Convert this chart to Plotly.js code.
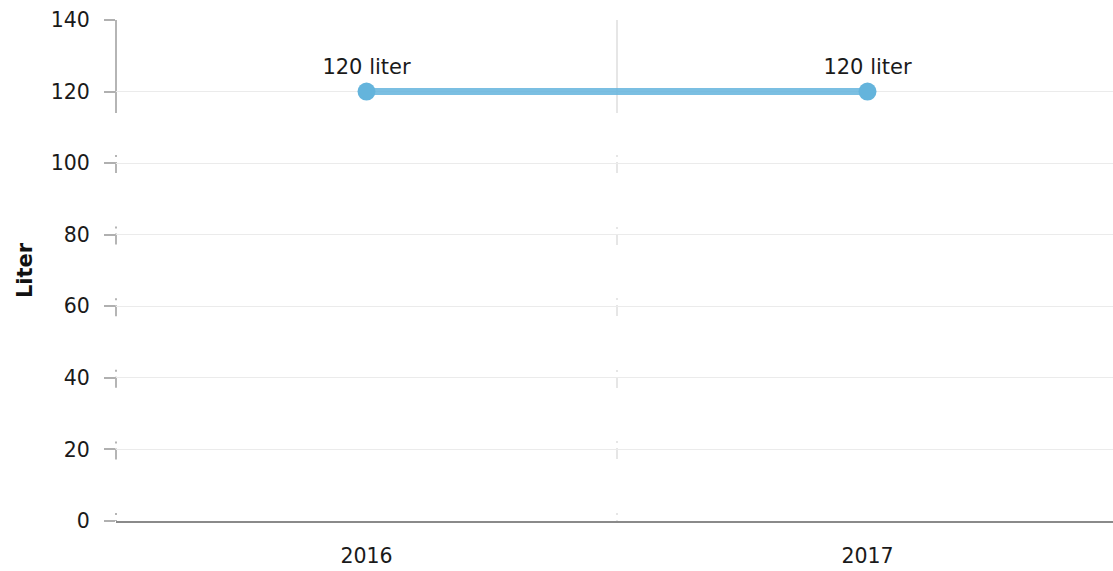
<!DOCTYPE html>
<html>
<head>
<meta charset="utf-8">
<script src="https://cdn.plot.ly/plotly-3.0.1.min.js"></script>
<style>html,body{margin:0;padding:0;background:#fff;}#chart{width:1113px;height:571px;}</style>
</head>
<body>
<div id="chart"></div>
<script>
const years = ['2016', '2017'];
const values = [120, 120];
const unitLabel = 'liter';
const yTicks = [0, 20, 40, 60, 80, 100, 120, 140];

const dashPattern = '93px,42px,2px,5px,11px,53.6px,2px,5px,11px,53.6px,2px,5px,11px,53.6px,2px,5px,11px,53.6px,2px,5px,11px,53.6px,2px,5px,11px,60px';

const trace = {
  type: 'scatter',
  mode: 'lines+markers+text',
  x: years,
  y: values,
  text: values.map(v => v + ' ' + unitLabel),
  textposition: 'top center',
  textfont: {family: 'DejaVu Sans, Verdana, sans-serif', size: 21, color: '#1a1a1a'},
  line: {color: 'rgba(100,180,221,0.85)', width: 7},
  marker: {color: '#64b4dc', size: 18},
  hoverinfo: 'none',
  cliponaxis: false
};

const layout = {
  width: 1113, height: 571,
  margin: {l: 116, r: 0, t: 20, b: 50},
  paper_bgcolor: '#fff', plot_bgcolor: '#fff',
  font: {family: 'DejaVu Sans, Verdana, sans-serif', size: 20.5, color: '#1a1a1a'},
  showlegend: false,
  xaxis: {
    type: 'category',
    range: [-0.5, 1.49],
    tickson: 'boundaries',
    showgrid: true,
    gridcolor: '#e6e6e6',
    gridwidth: 2,
    griddash: dashPattern,
    showline: true, linecolor: '#8a8a8a', linewidth: 2,
    ticks: '', zeroline: false,
    tickfont: {size: 20.5, color: '#1a1a1a'},
    ticklabelstandoff: 15
  },
  yaxis: {
    range: [0, 140],
    tickvals: yTicks,
    showgrid: true, gridcolor: '#ebebeb', gridwidth: 1,
    zeroline: false, showline: false,
    ticks: 'outside', ticklen: 11, tickwidth: 2, tickcolor: '#b0b0b0',
    tickfont: {size: 20.5, color: '#1a1a1a'},
    ticklabelstandoff: 10,
    title: {text: '<b>Liter</b>', font: {size: 21, color: '#111'}, standoff: 12}
  },
  shapes: [{
    type: 'line', xref: 'paper', yref: 'paper',
    x0: 0, x1: 0, y0: 1, y1: 0,
    line: {color: '#b5b5b5', width: 2, dash: dashPattern},
    layer: 'below'
  }]
};

Plotly.newPlot('chart', [trace], layout, {displayModeBar: false, staticPlot: true});
</script>
</body>
</html>
